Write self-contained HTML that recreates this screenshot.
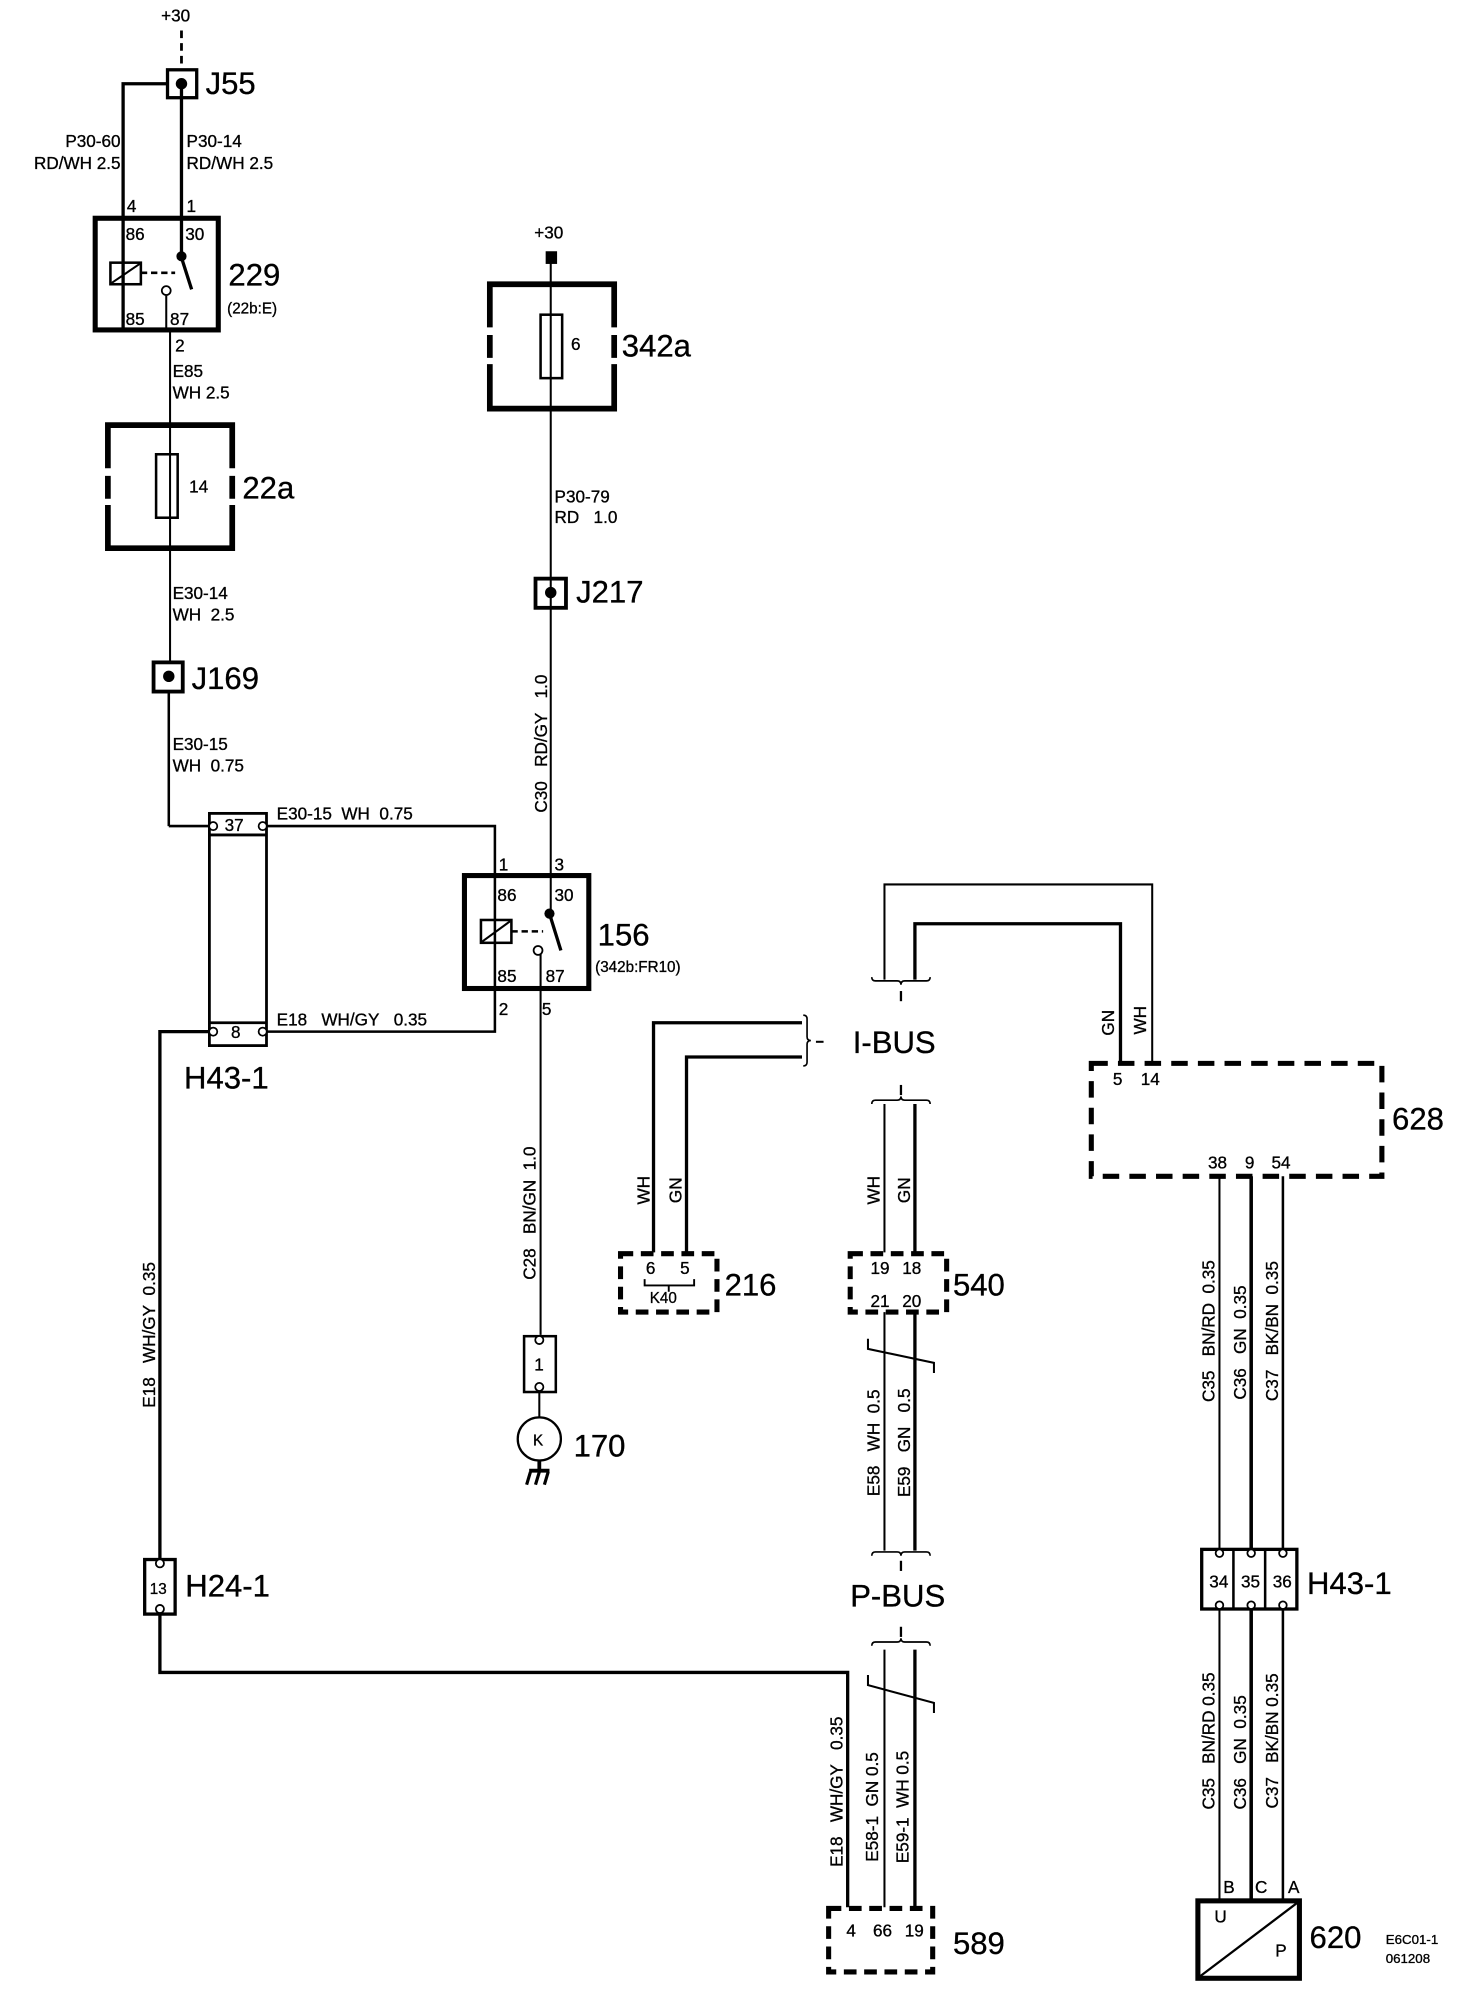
<!DOCTYPE html>
<html><head><meta charset="utf-8"><style>
html,body{margin:0;padding:0;background:#fff;}
svg{display:block;}
text{font-family:"Liberation Sans",Arial,sans-serif;fill:#000;stroke:#000;stroke-width:0.25;}
.s{font-size:13.5px;}
.xs{font-size:12px;}
.b{font-size:24.5px;}
</style></head><body>
<svg width="1472" height="1994" viewBox="0 0 1160 1571.4" xmlns="http://www.w3.org/2000/svg">
<rect x="0" y="0" width="1160" height="1572" fill="#fff" stroke="none"/>
<g stroke="#000" fill="none" stroke-width="2.6">
<line x1="143" y1="24" x2="143" y2="55" stroke-width="2.2" stroke-dasharray="6,4"/>
<rect x="132" y="55" width="23" height="22"/>
<line x1="143" y1="66" x2="143" y2="172"/>
<polyline points="132,66 97,66 97,260"/>
<rect x="75" y="172" width="97" height="88" stroke-width="4"/>
<rect x="87" y="207" width="24" height="17" stroke-width="2"/>
<line x1="88" y1="223" x2="110" y2="208" stroke-width="1.6"/>
<line x1="111" y1="215" x2="138" y2="215" stroke-width="2" stroke-dasharray="5,3"/>
<line x1="143" y1="172" x2="143" y2="202"/>
<line x1="143" y1="203" x2="151" y2="228"/>
<line x1="131" y1="233" x2="131" y2="260" stroke-width="1.6"/>
<line x1="134" y1="260" x2="134" y2="334" stroke-width="1.6"/>
<path d="M85,369 V335 H183 V369 M183,398 V432 H85 V398 M85,375 V393 M183,375 V393" stroke-width="4.5"/>
<rect x="123" y="358" width="17" height="50" stroke-width="2"/>
<line x1="134" y1="334" x2="134" y2="521" stroke-width="1.6"/>
<rect x="121" y="522" width="23" height="23" stroke-width="3"/>
<line x1="133" y1="545" x2="133" y2="651" stroke-width="2"/>
<polyline points="133,651 165,651" stroke-width="2"/>
<rect x="165" y="641" width="45" height="183" stroke-width="2.2"/>
<line x1="165" y1="658" x2="210" y2="658" stroke-width="2.2"/>
<line x1="165" y1="806" x2="210" y2="806" stroke-width="2.2"/>
<polyline points="210,651 390,651 390,690" stroke-width="2"/>
<polyline points="210,813 390,813 390,779" stroke-width="2"/>
<polyline points="165,813 126,813 126,1228" stroke-width="2.6"/>
<rect x="366" y="690" width="98" height="89" stroke-width="4"/>
<rect x="379" y="725" width="24" height="18" stroke-width="2"/>
<line x1="380" y1="742" x2="402" y2="726" stroke-width="1.6"/>
<line x1="403" y1="734" x2="428" y2="734" stroke-width="2" stroke-dasharray="5,3"/>
<line x1="433" y1="720" x2="442" y2="749"/>
<line x1="390" y1="690" x2="390" y2="779" stroke-width="2"/>
<line x1="426" y1="752" x2="426" y2="1052" stroke-width="1.6"/>
<line x1="434" y1="205" x2="434" y2="720" stroke-width="1.6"/>
<path d="M386,258 V224 H484 V258 M484,287 V322 H386 V287 M386,264 V282 M484,264 V282" stroke-width="4.5"/>
<rect x="426" y="248" width="17" height="50" stroke-width="2"/>
<rect x="422" y="456" width="24" height="23" stroke-width="3"/>
<rect x="413" y="1053" width="25" height="44" stroke-width="2"/>
<line x1="425" y1="1097" x2="425" y2="1117" stroke-width="1.6"/>
<circle cx="425" cy="1134" r="17" stroke-width="1.8"/>
<line x1="425" y1="1151" x2="425" y2="1159" stroke-width="3"/>
<line x1="417" y1="1159" x2="433" y2="1159" stroke-width="3"/>
<line x1="418" y1="1160" x2="415" y2="1170" stroke-width="2.5"/>
<line x1="425" y1="1160" x2="422" y2="1170" stroke-width="2.5"/>
<line x1="432" y1="1160" x2="429" y2="1170" stroke-width="2.5"/>
<rect x="114" y="1229" width="24" height="43" stroke-width="2.6"/>
<polyline points="126,1272 126,1318 668,1318 668,1503" stroke-width="2.6"/>
<polyline points="697,772 697,697 908,697 908,837" stroke-width="1.6"/>
<polyline points="721,772 721,728 883,728 883,837" stroke-width="2.6"/>
<path d="M687,770 q0,3 3,3 h17 q3,0 3,3 q0,-3 3,-3 h17 q3,0 3,-3" stroke-width="1.3"/>
<line x1="710" y1="781" x2="710" y2="789" stroke-width="1.8"/>
<polyline points="515,987 515,806 632,806" stroke-width="2.6"/>
<polyline points="541,987 541,833 632,833" stroke-width="2.6"/>
<path d="M633,800 q3,0 3,3 v14 q0,3 3,3 q-3,0 -3,3 v14 q0,3 -3,3" stroke-width="1.3"/>
<line x1="643" y1="821" x2="649" y2="821" stroke-width="1.6"/>
<line x1="710" y1="855" x2="710" y2="863" stroke-width="1.8"/>
<path d="M687,870 q0,-3 3,-3 h17 q3,0 3,-3 q0,3 3,3 h17 q3,0 3,3" stroke-width="1.3"/>
<line x1="697" y1="870" x2="697" y2="987" stroke-width="1.6"/>
<line x1="721" y1="870" x2="721" y2="987" stroke-width="2.6"/>
<rect x="489" y="988" width="76" height="46" stroke-width="4" stroke-dasharray="10,6"/>
<polyline points="508,1008 508,1013 547,1013 547,1008" stroke-width="1.5"/>
<line x1="527" y1="1013" x2="527" y2="1018" stroke-width="1.5"/>
<rect x="670" y="988" width="76" height="46" stroke-width="4" stroke-dasharray="10,6"/>
<line x1="697" y1="1034" x2="697" y2="1222" stroke-width="1.6"/>
<line x1="721" y1="1034" x2="721" y2="1222" stroke-width="2.6"/>
<polyline points="684,1055 684,1063 736,1074 736,1082" stroke-width="1.6"/>
<path d="M687,1226 q0,-3 3,-3 h17 q3,0 3,3 q0,-3 3,-3 h17 q3,0 3,3" stroke-width="1.3"/>
<line x1="710" y1="1230" x2="710" y2="1238" stroke-width="1.8"/>
<line x1="710" y1="1282" x2="710" y2="1290" stroke-width="1.8"/>
<path d="M687,1297 q0,-3 3,-3 h17 q3,0 3,-3 q0,3 3,3 h17 q3,0 3,3" stroke-width="1.3"/>
<line x1="697" y1="1300" x2="697" y2="1503" stroke-width="1.6"/>
<line x1="721" y1="1300" x2="721" y2="1503" stroke-width="2.6"/>
<polyline points="684,1320 684,1328 736,1342 736,1350" stroke-width="1.6"/>
<rect x="653" y="1504" width="82" height="50" stroke-width="4" stroke-dasharray="10,6"/>
<rect x="860" y="838" width="229" height="89" stroke-width="4" stroke-dasharray="13,8"/>
<line x1="961" y1="927" x2="961" y2="1220" stroke-width="1.6"/>
<line x1="986" y1="927" x2="986" y2="1220" stroke-width="2.8"/>
<line x1="1011" y1="927" x2="1011" y2="1220" stroke-width="2"/>
<rect x="947" y="1221" width="75" height="47" stroke-width="2.6"/>
<line x1="972" y1="1221" x2="972" y2="1268" stroke-width="2"/>
<line x1="997" y1="1221" x2="997" y2="1268" stroke-width="2"/>
<line x1="961" y1="1268" x2="961" y2="1498" stroke-width="1.6"/>
<line x1="986" y1="1268" x2="986" y2="1498" stroke-width="2.8"/>
<line x1="1011" y1="1268" x2="1011" y2="1498" stroke-width="2"/>
<rect x="944" y="1498" width="80" height="61" stroke-width="4"/>
<line x1="945" y1="1558" x2="1023" y2="1499" stroke-width="1.8"/>
</g>
<g fill="#000" stroke="none">
<circle cx="143" cy="66" r="4.5"/>
<circle cx="143" cy="202" r="4"/>
<circle cx="433" cy="720" r="4"/>
<circle cx="434" cy="467" r="4.5"/>
<circle cx="133" cy="533" r="4.5"/>
<rect x="430" y="198" width="9" height="10"/>
</g>
<g fill="#fff" stroke="#000" stroke-width="1.4">
<circle cx="131" cy="229" r="3.5"/>
<circle cx="424" cy="749" r="3.5"/>
<circle cx="168" cy="651" r="3.2"/><circle cx="207" cy="651" r="3.2"/>
<circle cx="168" cy="813" r="3.2"/><circle cx="207" cy="813" r="3.2"/>
<circle cx="425" cy="1056" r="3.2"/><circle cx="425" cy="1093" r="3.2"/>
<circle cx="126" cy="1232" r="3.2"/><circle cx="126" cy="1268" r="3.2"/>
<circle cx="961" cy="1224" r="3"/><circle cx="986" cy="1224" r="3"/><circle cx="1011" cy="1224" r="3"/>
<circle cx="961" cy="1265" r="3"/><circle cx="986" cy="1265" r="3"/><circle cx="1011" cy="1265" r="3"/>
</g>
<text class="s" x="127" y="17">+30</text>
<text class="b" x="162" y="74">J55</text>
<text class="s" x="95" y="116" text-anchor="end">P30-60</text>
<text class="s" x="95" y="133" text-anchor="end">RD/WH 2.5</text>
<text class="s" x="147" y="116">P30-14</text>
<text class="s" x="147" y="133">RD/WH 2.5</text>
<text class="s" x="100" y="167">4</text>
<text class="s" x="147" y="167">1</text>
<text class="s" x="99" y="189">86</text>
<text class="s" x="146" y="189">30</text>
<text class="s" x="99" y="256">85</text>
<text class="s" x="134" y="256">87</text>
<text class="b" x="180" y="225">229</text>
<text class="xs" x="179" y="247">(22b:E)</text>
<text class="s" x="138" y="277">2</text>
<text class="s" x="136" y="297">E85</text>
<text class="s" x="136" y="314">WH 2.5</text>
<text class="s" x="149" y="388">14</text>
<text class="b" x="191" y="393">22a</text>
<text class="s" x="136" y="472">E30-14</text>
<text class="s" x="136" y="489">WH&#160; 2.5</text>
<text class="b" x="151" y="543">J169</text>
<text class="s" x="136" y="591">E30-15</text>
<text class="s" x="136" y="608">WH&#160; 0.75</text>
<text class="s" x="177" y="655">37</text>
<text class="s" x="182" y="818">8</text>
<text class="b" x="145" y="858">H43-1</text>
<text class="s" x="218" y="646">E30-15&#160; WH&#160; 0.75</text>
<text class="s" x="218" y="808">E18&#160;&#160; WH/GY&#160;&#160; 0.35</text>
<text class="s" x="393" y="686">1</text>
<text class="s" x="437" y="686">3</text>
<text class="s" x="392" y="710">86</text>
<text class="s" x="437" y="710">30</text>
<text class="s" x="392" y="774">85</text>
<text class="s" x="430" y="774">87</text>
<text class="s" x="393" y="800">2</text>
<text class="s" x="427" y="800">5</text>
<text class="b" x="471" y="745">156</text>
<text class="xs" x="469" y="766">(342b:FR10)</text>
<text class="s" x="421" y="188">+30</text>
<text class="s" x="450" y="276">6</text>
<text class="b" x="490" y="281">342a</text>
<text class="s" x="437" y="396">P30-79</text>
<text class="s" x="437" y="412">RD&#160;&#160; 1.0</text>
<text class="b" x="454" y="475">J217</text>
<text class="s" transform="translate(431,586) rotate(-90)" text-anchor="middle">C30&#160;&#160; RD/GY&#160;&#160; 1.0</text>
<text class="s" transform="translate(422,956) rotate(-90)" text-anchor="middle">C28&#160;&#160; BN/GN&#160; 1.0</text>
<text class="s" x="421" y="1080">1</text>
<text class="xs" x="420" y="1139">K</text>
<text class="b" x="452" y="1148">170</text>
<text class="s" transform="translate(122,1052) rotate(-90)" text-anchor="middle">E18&#160;&#160; WH/GY&#160; 0.35</text>
<text class="xs" x="118" y="1256">13</text>
<text class="b" x="146" y="1258">H24-1</text>
<text class="b" x="672" y="830">I-BUS</text>
<text class="b" x="670" y="1266">P-BUS</text>
<text class="s" transform="translate(512,938) rotate(-90)" text-anchor="middle">WH</text>
<text class="s" transform="translate(537,938) rotate(-90)" text-anchor="middle">GN</text>
<text class="s" transform="translate(693,938) rotate(-90)" text-anchor="middle">WH</text>
<text class="s" transform="translate(717,938) rotate(-90)" text-anchor="middle">GN</text>
<text class="s" x="509" y="1004">6</text>
<text class="s" x="536" y="1004">5</text>
<text class="xs" x="512" y="1027">K40</text>
<text class="b" x="571" y="1021">216</text>
<text class="s" x="686" y="1004">19</text>
<text class="s" x="711" y="1004">18</text>
<text class="s" x="686" y="1030">21</text>
<text class="s" x="711" y="1030">20</text>
<text class="b" x="751" y="1021">540</text>
<text class="s" transform="translate(693,1137) rotate(-90)" text-anchor="middle">E58&#160;&#160; WH&#160; 0.5</text>
<text class="s" transform="translate(717,1137) rotate(-90)" text-anchor="middle">E59&#160;&#160; GN&#160;&#160; 0.5</text>
<text class="s" transform="translate(664,1412) rotate(-90)" text-anchor="middle">E18&#160;&#160; WH/GY&#160;&#160; 0.35</text>
<text class="s" transform="translate(692,1424) rotate(-90)" text-anchor="middle">E58-1&#160; GN 0.5</text>
<text class="s" transform="translate(716,1424) rotate(-90)" text-anchor="middle">E59-1&#160; WH 0.5</text>
<text class="s" x="667" y="1526">4</text>
<text class="s" x="688" y="1526">66</text>
<text class="s" x="713" y="1526">19</text>
<text class="b" x="751" y="1540">589</text>
<text class="s" transform="translate(878,806) rotate(-90)" text-anchor="middle">GN</text>
<text class="s" transform="translate(903,804) rotate(-90)" text-anchor="middle">WH</text>
<text class="s" x="877" y="855">5</text>
<text class="s" x="899" y="855">14</text>
<text class="s" x="952" y="921">38</text>
<text class="s" x="981" y="921">9</text>
<text class="s" x="1002" y="921">54</text>
<text class="b" x="1097" y="890">628</text>
<text class="s" transform="translate(957,1049) rotate(-90)" text-anchor="middle">C35&#160;&#160; BN/RD&#160; 0.35</text>
<text class="s" transform="translate(982,1058) rotate(-90)" text-anchor="middle">C36&#160;&#160; GN&#160; 0.35</text>
<text class="s" transform="translate(1007,1049) rotate(-90)" text-anchor="middle">C37&#160;&#160; BK/BN&#160; 0.35</text>
<text class="s" x="953" y="1251">34</text>
<text class="s" x="978" y="1251">35</text>
<text class="s" x="1003" y="1251">36</text>
<text class="b" x="1030" y="1256">H43-1</text>
<text class="s" transform="translate(957,1372) rotate(-90)" text-anchor="middle">C35&#160;&#160; BN/RD 0.35</text>
<text class="s" transform="translate(982,1381) rotate(-90)" text-anchor="middle">C36&#160;&#160; GN&#160; 0.35</text>
<text class="s" transform="translate(1007,1372) rotate(-90)" text-anchor="middle">C37&#160;&#160; BK/BN 0.35</text>
<text class="s" x="964" y="1492">B</text>
<text class="s" x="989" y="1492">C</text>
<text class="s" x="1015" y="1492">A</text>
<text class="s" x="957" y="1515">U</text>
<text class="s" x="1005" y="1542">P</text>
<text class="b" x="1032" y="1535">620</text>
<text x="1092" y="1532" style="font-size:10.5px">E6C01-1</text>
<text x="1092" y="1547" style="font-size:10.5px">061208</text>
</svg>
</body></html>
